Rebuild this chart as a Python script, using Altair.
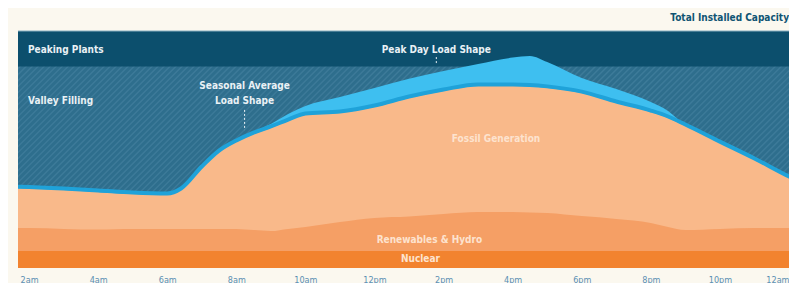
import altair as alt
import numpy as np
import pandas as pd

# ---- data (values as % of total installed capacity) ----
hours = [1.5, 2, 3, 4, 5, 6, 6.4, 7, 7.5, 8, 8.5, 9, 9.5, 10, 11, 12, 13, 14, 15,
         16, 16.5, 17, 18, 19, 20, 20.5, 21, 22, 23, 24, 24.5]
seasonal_avg = [33.8, 33.5, 32.9, 32.1, 31.2, 30.8, 32.9, 42.2, 48.9, 53.2, 56.5,
                59.1, 62.0, 64.6, 65.4, 67.9, 71.7, 74.7, 76.8, 76.8, 76.6, 76.0,
                73.8, 69.6, 65.8, 63.3, 59.9, 52.7, 45.6, 38.0, 34.6]
peak_day = [33.8, 33.5, 32.9, 32.1, 31.2, 30.8, 32.9, 42.2, 48.9, 53.2, 57.4,
            60.8, 65.0, 68.4, 72.2, 76.0, 79.8, 83.1, 86.1, 88.8, 89.5, 86.9,
            80.2, 75.5, 70.0, 66.2, 59.9, 52.7, 45.6, 38.0, 34.6]
renewables_top = [16.9, 16.9, 16.5, 16.2, 16.5, 16.5, 16.5, 16.5, 16.5, 16.5, 16.0,
                  15.6, 16.5, 17.3, 19.4, 21.1, 21.7, 22.8, 23.6, 23.6, 23.4, 23.2,
                  21.9, 20.7, 19.0, 17.3, 16.0, 16.5, 16.9, 16.9, 16.9]
nuclear_top = [7.2] * len(hours)
peaking_floor = 85.0
capacity = 100.0

tick_hours = [2, 4, 6, 8, 10, 12, 14, 16, 18, 20, 22, 24]
tick_labels = ["2am", "4am", "6am", "8am", "10am", "12pm", "2pm", "4pm", "6pm",
               "8pm", "10pm", "12am"]

left_labels = pd.DataFrame({
    "text": ["Peaking Plants", "Valley Filling"],
    "h": [1.97, 1.97], "v": [92.0, 70.5],
})
blue_labels = pd.DataFrame({
    "text": ["Seasonal Average", "Load Shape", "Peak Day Load Shape"],
    "h": [8.24, 8.24, 13.79], "v": [77.0, 70.5, 91.8],
})
orange_labels = pd.DataFrame({
    "text": ["Fossil Generation", "Renewables & Hydro", "Nuclear"],
    "h": [15.52, 13.59, 13.33], "v": [54.4, 11.8, 3.8],
})

XMIN, XMAX = 1.68, 24.0
W, H = 771, 237
FONT = "Liberation Sans Narrow, DejaVu Sans Condensed, sans-serif"

df = pd.DataFrame({
    "hour": hours, "avg": seasonal_avg, "peak": peak_day,
    "ren": renewables_top, "nuc": nuclear_top, "zero": 0.0,
})

xs = alt.Scale(domain=[XMIN, XMAX], nice=False, zero=False)
ys = alt.Scale(domain=[0, 100], nice=False)
label_expr = "[" + ",".join("'%s'" % t for t in tick_labels) + "][round((datum.value-2)/2)]"

x_axis = alt.Axis(
    values=tick_hours, labelExpr=label_expr, domain=False, ticks=False, grid=False,
    labelPadding=7, labelFontSize=9, labelColor="#5a8fb3", labelFont=FONT,
    title=None, labelOverlap=False, labelFlush=True)

# hatch stripes (decorative pattern for "valley filling")
dx = H / (W / (XMAX - XMIN))  # 45 degrees
offs = np.arange(XMIN - dx - 0.3, XMAX + 0.3, 0.1735)
stripes = pd.DataFrame({"x": offs, "x2": offs + dx, "y": 0.0, "y2": 100.0})
stripe_layer = alt.Chart(stripes).mark_rule(
    color="#4b87a6", strokeWidth=1.5, opacity=0.5, clip=True
).encode(
    x=alt.X("x:Q", scale=xs, axis=x_axis), x2="x2:Q",
    y=alt.Y("y:Q", scale=ys, axis=None), y2="y2:Q",
)

band = alt.Chart(pd.DataFrame({"y": [peaking_floor], "y2": [capacity]})).mark_rect(
    color="#0c4f6d"
).encode(x=alt.value(0), x2=alt.value(W), y=alt.Y("y:Q", scale=ys, axis=None), y2="y2:Q")

top_rule = alt.Chart(pd.DataFrame({"y": [capacity]})).mark_rule(
    color="#86aebf", strokeWidth=1
).encode(x=alt.value(0), x2=alt.value(W), y=alt.Y("y:Q", scale=ys, axis=None))

base = alt.Chart(df)
peak_area = base.mark_area(color="#3ebff0", interpolate="monotone", clip=True).encode(
    x=alt.X("hour:Q", scale=xs), y=alt.Y("peak:Q", scale=ys, axis=None), y2="zero:Q")
fossil = base.mark_area(color="#f9b98a", interpolate="monotone", clip=True).encode(
    x=alt.X("hour:Q", scale=xs), y=alt.Y("avg:Q", scale=ys), y2="zero:Q")
renew = base.mark_area(color="#f59f65", interpolate="monotone", clip=True).encode(
    x=alt.X("hour:Q", scale=xs), y=alt.Y("ren:Q", scale=ys), y2="zero:Q")
nuclear = base.mark_area(color="#f2832f", interpolate="linear", clip=True).encode(
    x=alt.X("hour:Q", scale=xs), y=alt.Y("nuc:Q", scale=ys), y2="zero:Q")
avg_line = base.mark_line(color="#1fa2d9", strokeWidth=4, interpolate="monotone",
                          yOffset=-1.5, clip=True).encode(
    x=alt.X("hour:Q", scale=xs), y=alt.Y("avg:Q", scale=ys))


def text_layer(data, align, color):
    return alt.Chart(data).mark_text(
        font=FONT, fontSize=10, fontWeight="bold", baseline="middle",
        align=align, color=color
    ).encode(x=alt.X("h:Q", scale=xs), y=alt.Y("v:Q", scale=ys), text="text:N")


pointers = pd.DataFrame({"h": [8.24, 13.79], "v": [66.7, 89.0], "v2": [58.2, 85.7]})
pointer_layer = alt.Chart(pointers).mark_rule(
    color="#e9f1f5", strokeWidth=1, strokeDash=[2, 2]
).encode(x=alt.X("h:Q", scale=xs), y=alt.Y("v:Q", scale=ys), y2="v2:Q")

title_text = alt.Chart(pd.DataFrame({"h": [XMAX], "v": [105.5],
                                     "text": ["Total Installed Capacity"]})).mark_text(
    font=FONT, fontSize=10, fontWeight="bold", align="right", baseline="middle",
    color="#0f5473"
).encode(x=alt.X("h:Q", scale=xs), y=alt.Y("v:Q", scale=ys), text="text:N")

chart = alt.layer(
    stripe_layer, band, top_rule, peak_area, fossil, renew, nuclear, avg_line,
    pointer_layer,
    text_layer(left_labels, "left", "#e9f1f5"),
    text_layer(blue_labels, "center", "#e9f1f5"),
    text_layer(orange_labels, "center", "#fde3cf"),
    title_text
).properties(
    width=W, height=H,
    background="#fbf8ef",
    padding={"left": 10, "top": 23, "right": 0, "bottom": 15},
    autosize=alt.AutoSizeParams(type="none"),
).configure_view(stroke=None, fill="#2e6e8d")

chart.save("out.html", embed_options={"renderer": "svg", "actions": False})
